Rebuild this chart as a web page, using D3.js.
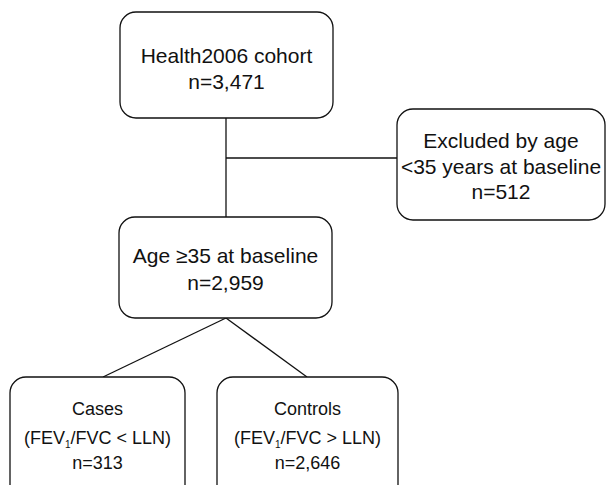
<!DOCTYPE html>
<html>
<head>
<meta charset="utf-8">
<script src="https://cdn.jsdelivr.net/npm/d3@7"></script>
<style>
  body { margin: 0; background: #fff; }
  svg text { font-family: "Liberation Sans", Arial, sans-serif; fill: #111; }
</style>
</head>
<body>
<div id="chart"></div>
<script>
// flowchart content
const nodeIds = ['cohort', 'excluded', 'age', 'cases', 'controls'];
const nodeTitles = [
  ['Health2006 cohort'],
  ['Excluded by age', '<35 years at baseline'],
  ['Age \u226535 at baseline'],
  ['Cases', 'FEV1<LLN'],
  ['Controls', 'FEV1>LLN']
];
const nodeCounts = [3471, 512, 2959, 313, 2646];
const links = [['cohort', 'age'], ['age', 'cases'], ['age', 'controls']];
const sideLinks = [['cohort', 'excluded']];

const width = 607;
const height = 485;

// box geometry
const layout = {
  cohort:   {x: 120, y: 12,  w: 213, h: 106, fs: 21},
  excluded: {x: 397, y: 109, w: 208, h: 111, fs: 21},
  age:      {x: 119, y: 217, w: 213, h: 101, fs: 21},
  cases:    {x: 10,  y: 377, w: 175, h: 130, fs: 18},
  controls: {x: 217, y: 377, w: 181, h: 130, fs: 18}
};
const textY = {
  cohort: [55, 81],
  excluded: [140, 166, 191],
  age: [255, 282],
  cases: [409, 438, 463],
  controls: [409, 438, 463]
};
const linkEndX = {age: 226, cases: 103, controls: 307};

const fmt = d3.format(',');

const svg = d3.select('#chart')
  .append('svg')
  .attr('width', width)
  .attr('height', height);

// connectors
const cx = id => layout[id].x + layout[id].w / 2;
const lineG = svg.append('g')
  .attr('stroke', '#111')
  .attr('stroke-width', 1.3)
  .attr('fill', 'none');

links.forEach(function(l) {
  const a = layout[l[0]], b = layout[l[1]];
  lineG.append('line')
    .attr('x1', 226)
    .attr('y1', a.y + a.h)
    .attr('x2', linkEndX[l[1]])
    .attr('y2', b.y);
});
sideLinks.forEach(function(l) {
  const b = layout[l[1]];
  lineG.append('line')
    .attr('x1', 226)
    .attr('y1', 158)
    .attr('x2', b.x)
    .attr('y2', 158);
});

// boxes
const nodes = nodeIds.map(function(id, i) {
  return {id: id, title: nodeTitles[i], n: nodeCounts[i]};
});

const g = svg.selectAll('g.node').data(nodes).enter()
  .append('g')
  .attr('class', 'node');

g.append('rect')
  .attr('x', d => layout[d.id].x)
  .attr('y', d => layout[d.id].y)
  .attr('width', d => layout[d.id].w)
  .attr('height', d => layout[d.id].h)
  .attr('rx', 16)
  .attr('ry', 16)
  .attr('fill', '#fff')
  .attr('stroke', '#111')
  .attr('stroke-width', 1.3);

g.each(function(d) {
  const sel = d3.select(this);
  const ys = textY[d.id];
  const fs = layout[d.id].fs;
  const x = cx(d.id);
  d.title.forEach(function(t, i) {
    const txt = sel.append('text')
      .attr('x', x)
      .attr('y', ys[i])
      .attr('text-anchor', 'middle')
      .attr('dominant-baseline', 'central')
      .attr('font-size', fs);
    if (t.indexOf('FEV1') === 0) {
      const op = t.indexOf('<') > 0 ? ' < ' : ' > ';
      txt.append('tspan').text('(FEV');
      txt.append('tspan').attr('font-size', 10).attr('dy', 6).text('1');
      txt.append('tspan').attr('dy', -6).text('/FVC' + op + 'LLN)');
    } else {
      txt.text(t);
    }
  });
  sel.append('text')
    .attr('x', x)
    .attr('y', ys[ys.length - 1])
    .attr('text-anchor', 'middle')
    .attr('dominant-baseline', 'central')
    .attr('font-size', fs)
    .text('n=' + fmt(d.n));
});
</script>
</body>
</html>
